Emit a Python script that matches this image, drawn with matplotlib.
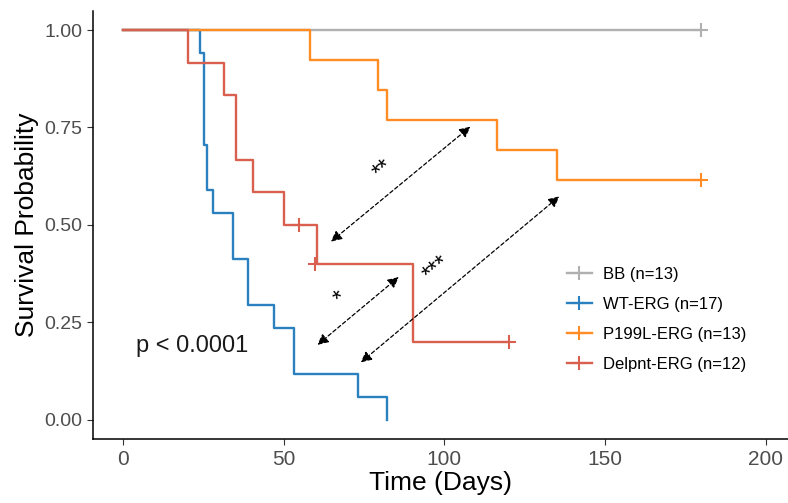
import matplotlib.pyplot as plt

plt.rcParams['font.family'] = ['Liberation Sans', 'DejaVu Sans']

# Kaplan-Meier step data (time in days, survival probability)
bb_time = [0, 180]
bb_surv = [1.0, 1.0]
bb_cens_time = [180]
bb_cens_surv = [1.0]

wt_time = [0, 24.0, 25.2, 26.1, 28.1, 34.2, 39.0, 47.1, 53.1, 73.1, 82.1]
wt_surv = [1.0, 16/17, 12/17, 10/17, 9/17, 7/17, 5/17, 4/17, 2/17, 1/17, 0.0]
wt_cens_time = []
wt_cens_surv = []

p199_time = [0, 58.1, 79.2, 82.1, 116.3, 135.2, 180]
p199_surv = [1.0, 12/13, 11/13, 10/13, 9/13, 8/13, 8/13]
p199_cens_time = [180]
p199_cens_surv = [8/13]

del_time = [0, 20.1, 31.3, 35.1, 40.3, 50.2, 60.3, 90.1, 120]
del_surv = [1.0, 11/12, 10/12, 8/12, 7/12, 6/12, 0.4, 0.2, 0.2]
del_cens_time = [54.9, 59.8, 120]
del_cens_surv = [0.5, 0.4, 0.2]

labels = ['BB (n=13)', 'WT-ERG (n=17)', 'P199L-ERG (n=13)', 'Delpnt-ERG (n=12)']
colors = ['#b0b0b0', '#2b80c0', '#ff8c24', '#d9604e']

# pairwise comparison arrows: (start, end, label, label position)
comparisons = [
    ((64.7, 0.457), (108.1, 0.752), '**', (80.9, 0.640)),
    ((60.5, 0.192), (85.8, 0.366), '*', (67.6, 0.310)),
    ((74.0, 0.147), (135.8, 0.573), '***', (97.7, 0.386)),
]

fig = plt.figure(figsize=(7.88, 5.03), dpi=100)
ax = fig.add_axes([0.118, 0.127, 0.882, 0.852])

groups = [
    (bb_time, bb_surv, bb_cens_time, bb_cens_surv),
    (wt_time, wt_surv, wt_cens_time, wt_cens_surv),
    (p199_time, p199_surv, p199_cens_time, p199_cens_surv),
    (del_time, del_surv, del_cens_time, del_cens_surv),
]
handles = []
for (t, s, ct, cs), lab, col in zip(groups, labels, colors):
    ax.step(t, s, where='post', color=col, lw=1.7)
    ax.plot(ct, cs, ls='none', marker='+', ms=10, mew=1.5, color=col)
    h, = ax.plot([], [], color=col, lw=1.7, marker='+', ms=10, mew=1.5, label=lab)
    handles.append(h)

for start, end, txt, pos in comparisons:
    ax.annotate('', xy=end, xytext=start,
                arrowprops=dict(arrowstyle='<|-|>', ls=(0, (3, 2)), lw=0.9,
                                color='black', mutation_scale=16,
                                shrinkA=0, shrinkB=0))
    ax.text(pos[0], pos[1], txt, fontsize=17, rotation=40,
            ha='center', va='center', color='black')

ax.text(4, 0.19, 'p < 0.0001', fontsize=17, ha='left', va='center', color='#1a1a1a')

ax.set_xlim(-9.4, 207)
ax.set_ylim(-0.05, 1.05)
ax.set_xticks([0, 50, 100, 150, 200])
ax.set_yticks([0, 0.25, 0.5, 0.75, 1.0])
ax.set_yticklabels(['0.00', '0.25', '0.50', '0.75', '1.00'])
ax.tick_params(axis='x', labelsize=15, labelcolor='#4d4d4d', color='#333333', length=4)
ax.tick_params(axis='y', labelsize=14, labelcolor='#4d4d4d', color='#333333', length=4)
ax.spines['top'].set_visible(False)
ax.spines['right'].set_visible(False)
ax.spines['left'].set_linewidth(1.1)
ax.spines['bottom'].set_linewidth(1.1)

ax.set_xlabel('Time (Days)', fontsize=19, labelpad=2)
ax.set_ylabel('Survival Probability', fontsize=19, labelpad=4)

ax.legend(handles=handles, loc='upper left', bbox_to_anchor=(0.7, 0.5),
          bbox_transform=fig.transFigure, frameon=False, fontsize=12,
          labelspacing=0.9, handlelength=1.5, handletextpad=0.7)

fig.savefig('out.png', dpi=100)
